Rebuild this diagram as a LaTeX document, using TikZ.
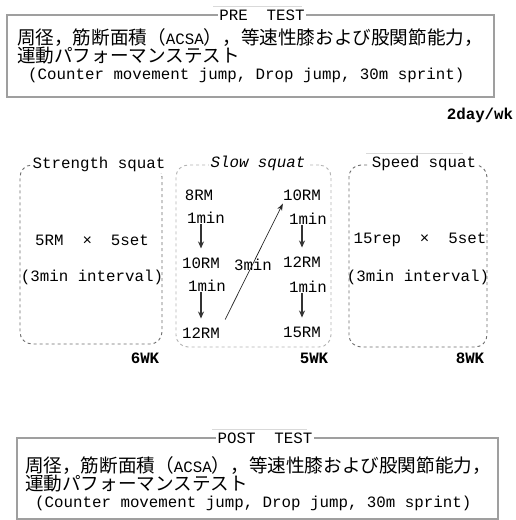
\documentclass[tikz,border=0pt]{standalone}
\usepackage{fontspec}
\setmainfont{Liberation Mono}
\newfontfamily\jpfont{Noto Sans CJK JP}
\usetikzlibrary{arrows.meta}
\newcommand{\latin}[1]{{\fontsize{15.8}{18.5}\selectfont\rmfamily #1}}
\begin{document}
\begin{tikzpicture}[x=1pt,y=1pt,
  lat/.style={font=\fontsize{15.8}{18}\selectfont, inner sep=0pt},
  jpl/.style={font=\fontsize{18.6}{18.2}\selectfont\jpfont, inner sep=0pt, align=left, anchor=base west},
  wk/.style={font=\fontsize{15.8}{18}\selectfont\bfseries, inner sep=0pt},
  ttl/.style={lat, fill=white, inner sep=1.5pt},
  line/.style={lat, anchor=west},
  testbox/.style={draw=gray!75, line width=1.3pt, inner sep=0pt},
  sqbox/.style={draw=gray!85!black, dashed, rounded corners=12pt, line width=0.9pt, inner sep=0pt},
  flow/.style={-{Stealth[length=7pt,width=6pt]}, line width=1.4pt, draw=gray!40!black},
  jump/.style={-{Stealth[length=7pt,width=5pt]}, line width=0.7pt, draw=gray!30!black},
  ghost/.style={draw=gray!30, line width=1pt}]
\useasboundingbox (0,0) rectangle (515,-520);

% ---- PRE TEST ----
\node[testbox, minimum width=487pt, minimum height=82pt] (pre) at (250.5,-56) {};
\draw[ghost] (213,-6) -- (302,-6);
\node[ttl] (pretitle) at (262,-15) {PRE\ \ TEST};
\node[jpl] (pre12) at (17,-62.5) {周径，筋断面積（\latin{ACSA}），等速性膝および股関節能力，\\運動パフォーマンステスト};
\node[line] (pre3) at (28,-75) {(Counter movement jump, Drop jump, 30m sprint)};

\node[wk] (freq) at (480,-115) {2day/wk};

% ---- Strength squat ----
\node[sqbox, minimum width=142pt, minimum height=179pt] (strength) at (91,-254.5) {};
\node[ttl] (strtitle) at (99,-164) {Strength squat};
\node[lat] (str1) at (92,-240) {5RM\ \ ×\ \ 5set};
\node[lat] (str2) at (92,-277) {(3min interval)};
\node[wk] (w6) at (145,-358) {6WK};

% ---- Slow squat ----
\node[sqbox, draw=gray!60, minimum width=155pt, minimum height=182pt] (slow) at (253.5,-256) {};
\node[ttl] (slowtitle) at (258,-163) {\textit{Slow squat}};
\node[lat] (s8) at (199,-195) {8RM};
\node[lat] (sm1) at (206,-218) {1min};
\node[lat] (s10) at (201,-263) {10RM};
\node[lat] (sm2) at (207,-286) {1min};
\node[lat] (s12) at (201,-333) {12RM};
\node[lat] (r10) at (302,-195) {10RM};
\node[lat] (rm1) at (308,-219) {1min};
\node[lat] (r12) at (302,-262) {12RM};
\node[lat] (rm2) at (308,-287) {1min};
\node[lat] (r15) at (302,-332) {15RM};
\node[lat] (t3) at (253,-265) {3min};
\draw[flow, shorten >=9pt] (s10.north |- sm1.south) -- (s10.north);
\draw[flow, shorten >=9pt] (s12.north |- sm2.south) -- (s12.north);
\draw[flow, shorten >=9pt] (r12.north |- rm1.south) -- (r12.north);
\draw[flow, shorten >=9pt] (r15.north |- rm2.south) -- (r15.north);
\draw[jump] ([xshift=5pt,yshift=8pt]s12.north east) -- ([yshift=-3pt]r10.south west);
\node[wk] (w5) at (314,-358) {5WK};

% ---- Speed squat ----
\node[sqbox, minimum width=138pt, minimum height=182pt] (speed) at (418,-256) {};
\draw[ghost] (366,-153) -- (463,-153);
\node[ttl] (spdtitle) at (424,-163) {Speed squat};
\node[lat] (spd1) at (420,-240) {15rep\ \ ×\ \ 5set};
\node[lat] (spd2) at (418,-277) {(3min interval)};
\node[wk] (w8) at (470,-358) {8WK};

% ---- POST TEST ----
\node[testbox, minimum width=481pt, minimum height=81pt] (post) at (257.5,-478.5) {};
\draw[ghost] (212,-429) -- (307,-429);
\node[ttl] (posttitle) at (265,-438) {POST\ \ TEST};
\node[jpl] (post12) at (25,-490.5) {周径，筋断面積（\latin{ACSA}），等速性膝および股関節能力，\\運動パフォーマンステスト};
\node[line] (post3) at (35,-503) {(Counter movement jump, Drop jump, 30m sprint)};
\end{tikzpicture}
\end{document}
